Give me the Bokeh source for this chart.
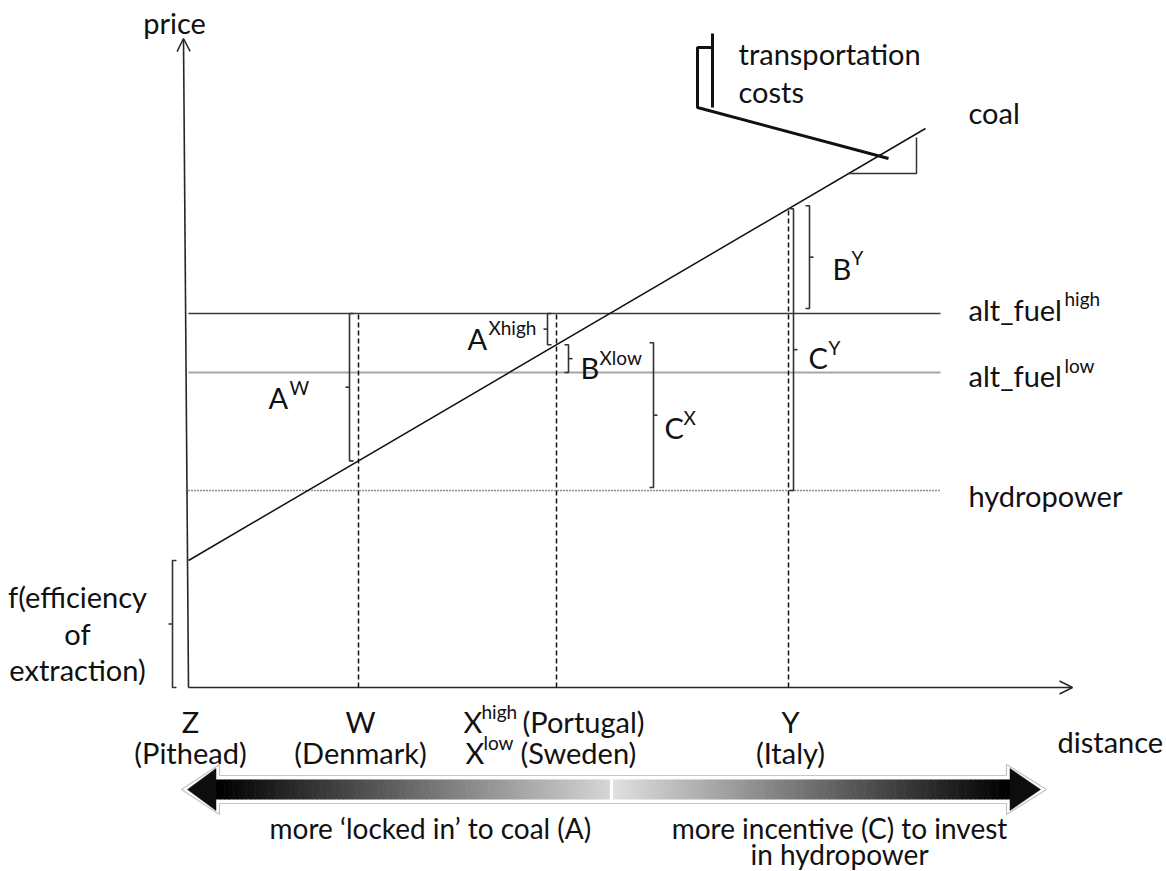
import numpy as np
from bokeh.plotting import figure
from bokeh.models import Range1d, Arrow, OpenHead
from bokeh.core.properties import value
from bokeh.embed import file_html
from bokeh.resources import INLINE

# ---------------- data (diagram units: distance from pithead, price) ----------------
loc_names = ["Z", "W", "X", "Y"]
loc_places = ["(Pithead)", "(Denmark)", "", "(Italy)"]
loc_distance = [0, 170, 368, 600]
coal_distance = [0, 737]
coal_price = [127, 559]
alt_fuel_high = 374
alt_fuel_low = 315
hydropower = 197
series_end = 752
axis_distance_max = 884
axis_price_max = 649


def coal_at(d):
    return float(np.interp(d, coal_distance, coal_price))


Zd, Wd, Xd, Yd = loc_distance

# ---------------- figure ----------------
p = figure(width=1166, height=871, x_range=Range1d(-188, 978), y_range=Range1d(-184, 687),
           output_backend="svg", toolbar_location=None, min_border=0,
           x_axis_location=None, y_axis_location=None)
p.grid.visible = False
p.outline_line_color = None
p.background_fill_color = "white"
p.border_fill_color = "white"

FONT = value("Lato")
MAIN = 29
SUP = 19
TXT = "#111111"


def txt(x, y, s, size=MAIN, align="left"):
    p.text(x=[x], y=[y], text=[s], text_font=FONT, text_font_size=f"{size}px",
           text_align=align, text_baseline="alphabetic", text_color=TXT)


# ---------------- axes ----------------
AX = "#262626"
p.add_layout(Arrow(end=OpenHead(size=13, line_width=1.5, line_color=AX),
                   x_start=Zd, y_start=0, x_end=Zd - 5, y_end=axis_price_max,
                   line_width=1.6, line_color=AX))
p.add_layout(Arrow(end=OpenHead(size=13, line_width=1.5, line_color=AX),
                   x_start=Zd, y_start=0, x_end=axis_distance_max, y_end=0,
                   line_width=1.6, line_color=AX))

# ---------------- horizontal price levels ----------------
p.line([Zd, series_end], [alt_fuel_high] * 2, line_color="#3a3a3a", line_width=1.6)
p.line([Zd, series_end], [alt_fuel_low] * 2, line_color="#a6a6a6", line_width=2.2)
p.line([Zd, series_end], [hydropower] * 2, line_color="#222222", line_width=1.3, line_dash="1 2")

# ---------------- coal line ----------------
p.line(coal_distance, coal_price, line_color="#111111", line_width=1.5)

# ---------------- dashed location verticals ----------------
p.line([Wd, Wd], [0, alt_fuel_high], line_color="#111111", line_width=1.5, line_dash="5 3")
p.line([Xd, Xd], [0, alt_fuel_high], line_color="#111111", line_width=1.5, line_dash="5 3")
p.line([Yd, Yd], [0, coal_at(Yd)], line_color="#111111", line_width=1.5, line_dash="5 3")

# ---------------- brackets ----------------
def bracket(x, y0, y1, end_dir, mid_dir, L=4):
    xs = [[x + end_dir * L, x, x, x + end_dir * L], [x, x + mid_dir * L]]
    ys = [[y0, y0, y1, y1], [(y0 + y1) / 2] * 2]
    return xs, ys


bxs, bys = [], []
for args in [
    (Zd - 16, 0, coal_at(Zd), 1, -1),
    (Wd - 9, coal_at(Wd), alt_fuel_high, 1, -1),
    (Xd - 9, coal_at(Xd), alt_fuel_high, 1, -1),
    (Xd + 12, alt_fuel_low, coal_at(Xd), -1, 1),
    (Xd + 97, hydropower + 3, coal_at(Xd) + 2, -1, 1),
    (Yd + 21, alt_fuel_high + 5, coal_at(Yd) + 3, -1, 1),
    (Yd + 5, hydropower, coal_at(Yd), -1, 1),
]:
    xs, ys = bracket(*args)
    bxs += xs
    bys += ys
p.multi_line(bxs, bys, line_color="#333333", line_width=1.6)

# ---------------- transportation-cost symbol ----------------
p.line([524, 524], [654, 580], line_color="#111111", line_width=3)
p.line([524, 509, 509, 700], [640, 640, 580, 529], line_color="#111111", line_width=3)
p.line([659, 728, 728], [514, 514, 550], line_color="#333333", line_width=1.5)

# ---------------- gradient double arrow ----------------
cy = -102
body = 10
head = 21
l_tip, l_back, mid, r_back, r_tip = -1, 27, 423, 822, 852
o = 4
outline_x = [l_tip - 6, l_back + o, l_back + o, r_back - o, r_back - o, r_tip + 6,
             r_back - o, r_back - o, l_back + o, l_back + o]
outline_y = [cy, cy + head + o, cy + body + o, cy + body + o, cy + head + o, cy,
             cy - head - o, cy - body - o, cy - body - o, cy - head - o]
p.patch(outline_x, outline_y, fill_color="white", line_color="#c4c4c4", line_width=1.2)

n = 90
le = np.linspace(l_back, mid, n + 1)
lg = np.linspace(0, 0xd6, n).astype(int)
re_ = np.linspace(mid, r_back, n + 1)
rg = np.linspace(0xe0, 0, n).astype(int)
cols = [f"#{g:02x}{g:02x}{g:02x}" for g in list(lg) + list(rg)]
lefts = list(le[:-1]) + list(re_[:-1])
rights = [r + 0.6 for r in list(le[1:]) + list(re_[1:])]
p.quad(left=lefts, right=rights, bottom=cy - body, top=cy + body, fill_color=cols, line_color=None)
p.line([mid, mid], [cy - body, cy + body], line_color="white", line_width=3)
p.patches([[l_tip, l_back + 0.5, l_back + 0.5], [r_tip, r_back - 0.5, r_back - 0.5]],
          [[cy, cy + head, cy - head], [cy, cy + head, cy - head]],
          fill_color="#0d0d0d", line_color="#0d0d0d", line_width=0.5)

# ---------------- texts ----------------
txt(-14, 665, "price", align="center")
txt(869, -54, "distance")
txt(550, 634, "transportation")
txt(550, 596, "costs")
txt(780, 575, "coal")
txt(780, 378, "alt_fuel")
txt(876, 389, "high", SUP)
txt(780, 312, "alt_fuel")
txt(876, 322, "low", SUP)
txt(780, 192, "hydropower")

txt(-111, 91, "f(efficiency", align="center")
txt(-111, 54, "of", align="center")
txt(-111, 18, "extraction)", align="center")

# gap labels
txt(80, 290, "A"); txt(101, 300, "W", SUP)
txt(279, 349, "A"); txt(300, 360, "Xhigh", SUP)
txt(392, 320, "B"); txt(411, 330, "Xlow", SUP)
txt(476, 260, "C"); txt(495, 270, "X", SUP)
txt(644, 419, "B"); txt(663, 430, "Y", SUP)
txt(620, 330, "C"); txt(640, 340, "Y", SUP)

# location labels
for name, place, d in zip(loc_names, loc_places, loc_distance):
    if name == "X":
        continue
    txt(d + 2, -34, name, align="center")
    txt(d + 2, -65, place, align="center")
txt(Xd - 93, -34, "X"); txt(Xd - 75, -24, "high", SUP); txt(Xd - 34, -34, "(Portugal)")
txt(Xd - 91, -65, "X"); txt(Xd - 73, -55, "low", SUP); txt(Xd - 36, -65, "(Sweden)")

# arrow captions
CAP = 28
txt(242, -140, "more \u2018locked in\u2019 to coal (A)", CAP, align="center")
txt(651, -140, "more incentive (C) to invest", CAP, align="center")
txt(651, -166, "in hydropower", CAP, align="center")

open("out.html", "w").write(file_html(p, INLINE))
